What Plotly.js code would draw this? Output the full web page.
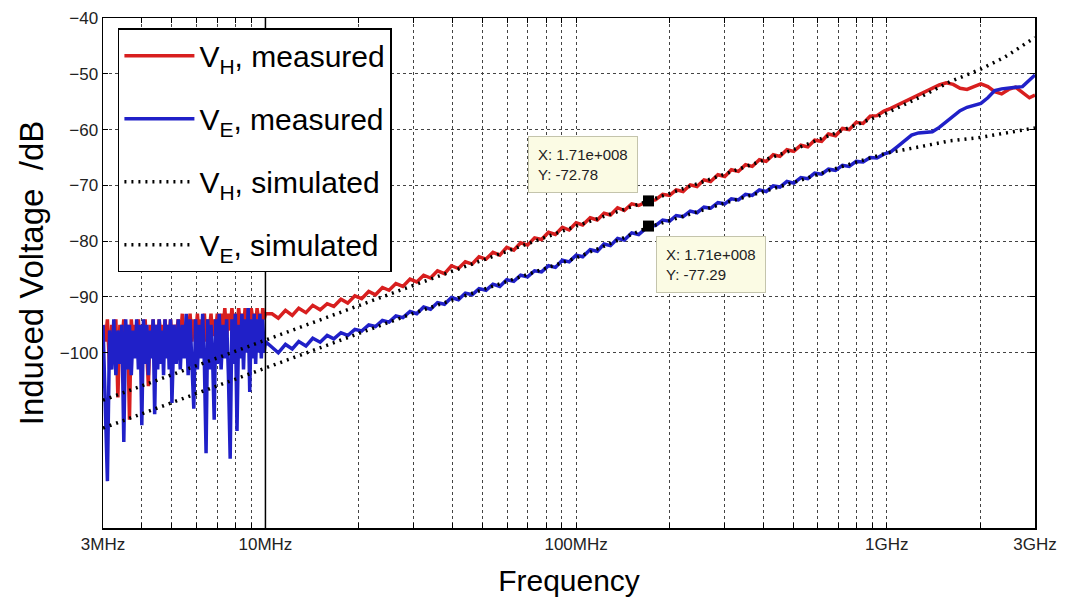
<!DOCTYPE html>
<html>
<head>
<meta charset="utf-8">
<script src="https://cdn.plot.ly/plotly-3.0.1.min.js"></script>
<style>
  html, body { margin: 0; padding: 0; background: #ffffff; }
  #chart { width: 1074px; height: 605px; }
</style>
</head>
<body>
<div id="chart"></div>
<script>
// ---------- data (frequencies in MHz, levels in dB) ----------
// noisy low-frequency part (3 MHz - 10 MHz)
const FREQ_LO_MHZ = [3.00,3.05,3.10,3.15,3.20,3.25,3.30,3.35,3.40,3.45,3.50,3.55,3.60,3.65,3.70,3.75,3.80,3.85,3.90,3.95,
  4.00,4.05,4.10,4.15,4.20,4.25,4.30,4.35,4.40,4.45,4.50,4.55,4.60,4.65,4.70,4.75,4.80,4.85,4.90,4.95,5.00,
  5.08,5.16,5.24,5.32,5.40,5.48,5.56,5.64,5.72,5.80,5.88,5.96,6.04,6.12,6.20,6.28,6.36,6.44,6.52,6.60,6.68,6.76,6.84,6.92,7.00,
  7.10,7.20,7.30,7.40,7.50,7.60,7.70,7.80,7.90,8.00,8.10,8.20,8.30,8.40,8.50,8.60,8.70,8.80,8.90,9.00,9.10,9.20,9.30,9.40,9.50,9.60,9.70,9.80,9.90,10.0];
const VH_MEAS_LO = [-95,-98,-94,-103,-95,-99,-94,-108,-95,-98,-94,-100,-95,-112,-94,-98,-95,-99,-94,-100,
  -95,-98,-94,-99,-106,-95,-98,-94,-99,-95,-98,-94,-97,-95,-98,-94,-99,-95,-97,-94,-98,
  -95,-97,-94,-98,-93,-99,-95,-97,-93,-98,-94,-97,-93,-98,-94,-96,-93,-98,-94,-96,-93,-97,-94,-96,-93,
  -97,-93,-96,-92,-97,-93,-96,-92,-95,-93,-96,-92,-95,-93,-96,-92,-95,-93,-95,-92,-94,-93,-95,-92,-94,-93,-95,-92,-94,-93];
const VE_MEAS_LO = [-95,-107,-123,-96,-103,-94,-104,-96,-102,-95,-116,-94,-103,-95,-104,-96,-101,-94,-103,-95,
  -113,-94,-102,-95,-104,-96,-101,-94,-111,-95,-103,-94,-102,-96,-104,-94,-101,-95,-103,-94,-109,
  -95,-102,-94,-103,-95,-101,-93,-104,-94,-102,-110,-94,-103,-95,-101,-93,-102,-118,-94,-103,-95,-101,-112,-94,-102,
  -93,-103,-95,-101,-94,-104,-119,-94,-102,-93,-114,-95,-101,-93,-103,-94,-100,-92,-107,-94,-101,-93,-102,-94,-100,-93,-101,-94,-100,-98];

// smoother part (10 MHz - 3 GHz)
const FREQ_HI_MHZ = [10.5,11,11.6,12.2,12.8,13.5,14.2,15,15.8,16.6,17.5,18.4,19.4,20.4,21.5,22.6,23.8,25,26.3,27.7,29.2,30.7,32.3,34,35.8,37.7,39.7,41.8,44,46.3,48.7,51.3,54,56.8,59.8,63,66.3,69.8,73.5,77.4,81.5,85.8,90.3,95,100,105,111,117,123,129,136,143,151,159,171,180,190,200,210,221,233,245,258,271,286,301,316,333,351,369,389,409,431,453,477,502,529,557,586,617,649,684,720,757,797,839,884,930,979,1030,1085,1142,1202,1265,1332,1402,1476,1554,1636,1722,1813,1908,2009,2115,2226,2343,2467,2597,2734,2878,3000];
const VH_MEAS_HI = [-93.0,-93.8,-92.4,-93.3,-92.0,-92.8,-91.5,-92.3,-91.2,-91.7,
  -90.4,-91.1,-89.8,-90.3,-89.0,-89.6,-88.3,-88.8,-87.6,-88.1,
  -86.8,-87.3,-86.1,-86.6,-85.3,-85.8,-84.4,-84.9,-83.7,-84.1,
  -82.8,-83.2,-82.0,-82.5,-81.1,-81.6,-80.3,-80.7,-79.4,-79.7,
  -78.4,-78.8,-77.5,-78.0,-76.7,-77.1,-75.8,-76.2,-75.0,-75.3,
  -74.0,-74.5,-73.3,-73.6,-72.78,-72.6,-71.6,-71.8,-70.8,-71.1,
  -69.9,-70.2,-69.0,-69.3,-68.1,-68.4,-67.2,-67.5,-66.3,-66.6,
  -65.4,-65.7,-64.5,-64.8,-63.6,-63.9,-62.8,-63.1,-61.9,-62.1,
  -60.8,-61.1,-59.8,-60.0,-58.7,-58.9,-57.6,-57.5,-56.7,-56.2,
  -55.6,-55.0,-54.3,-53.7,-53.2,-52.5,-52.0,-51.6,-51.9,-52.6,
  -52.8,-52.3,-51.8,-52.3,-53.2,-53.6,-52.8,-52.4,-53.4,-54.3,-53.8];
const VE_MEAS_HI = [-99.0,-100.0,-98.5,-99.3,-98.0,-98.8,-97.4,-98.1,-96.9,-97.5,
  -96.4,-96.9,-95.8,-96.1,-95.0,-95.3,-94.2,-94.5,-93.4,-93.7,
  -92.6,-93.0,-91.8,-92.2,-91.0,-91.3,-90.1,-90.5,-89.3,-89.6,
  -88.5,-88.8,-87.7,-88.1,-86.9,-87.2,-86.1,-86.4,-85.3,-85.5,
  -84.4,-84.7,-83.4,-83.7,-82.5,-82.8,-81.5,-81.8,-80.5,-80.8,
  -79.5,-79.8,-78.5,-78.8,-77.29,-77.2,-76.2,-76.4,-75.4,-75.6,
  -74.6,-74.9,-73.9,-74.1,-73.1,-73.3,-72.4,-72.6,-71.6,-71.8,
  -70.8,-71.1,-70.1,-70.3,-69.3,-69.6,-68.6,-68.8,-67.8,-68.0,
  -67.1,-67.3,-66.4,-66.6,-65.7,-65.8,-65.0,-65.1,-64.4,-64.0,
  -63.0,-62.0,-61.0,-60.6,-60.5,-60.4,-59.6,-58.6,-57.7,-56.6,
  -56.0,-55.7,-55.3,-54.3,-53.0,-52.7,-52.5,-52.4,-52.3,-51.2,-50.2];

// simulated curves
const FREQ_SIM_MHZ = [3,10,30,100,171,300,500,700,1000,1300,1600,2000,2400,3000];
const VH_SIM = [-108.5,-97.7,-87.9,-77.3,-72.8,-68.0,-63.6,-60.4,-57.0,-54.0,-51.4,-49.2,-47.0,-43.5];
const VE_SIM = [-113.5,-102.8,-92.9,-83.0,-77.5,-73.2,-69.5,-66.8,-64.2,-63.0,-62.0,-61.4,-60.6,-59.7];

// data tips
const TIP_X_HZ = 1.71e8;
const TIP_Y = [-72.78, -77.29];
const TIP_TEXT = ['X: 1.71e+008<br>Y: -72.78', 'X: 1.71e+008<br>Y: -77.29'];

// axis ticks
const X_TICK_MHZ = [3,4,5,6,7,8,9,10,20,30,40,50,60,70,80,90,100,200,300,400,500,600,700,800,900,1000,2000,3000];
const X_TICK_TEXT = ['3MHz','','','','','','','10MHz','','','','','','','','','100MHz','','','','','','','','','1GHz','','3GHz'];
const Y_TICKS = [-100,-90,-80,-70,-60,-50,-40];
const Y_RANGE = [-131.4, -40];
const X_RANGE_HZ = [3e6, 3e9];
const MARK_LINE_HZ = 1e7;

const LEGEND_NAMES = ['V<sub>H</sub>, measured','V<sub>E</sub>, measured','V<sub>H</sub>, simulated','V<sub>E</sub>, simulated'];

// ---------- build ----------
const toHz = a => a.map(v => v * 1e6);
const FONT = 'Arial, "Liberation Sans", sans-serif';

const freqMeas = toHz(FREQ_LO_MHZ.concat(FREQ_HI_MHZ));

const traces = [
  { x: freqMeas, y: VH_MEAS_LO.concat(VH_MEAS_HI), type: 'scatter', mode: 'lines',
    name: LEGEND_NAMES[0], legendgroup: 'a', line: { color: '#d81f1f', width: 3.5 } },
  { x: freqMeas, y: VE_MEAS_LO.concat(VE_MEAS_HI), type: 'scatter', mode: 'lines',
    name: LEGEND_NAMES[1], legendgroup: 'b', line: { color: '#2020c8', width: 3.5 } },
  { x: toHz(FREQ_SIM_MHZ), y: VH_SIM, type: 'scatter', mode: 'lines',
    name: LEGEND_NAMES[2], legendgroup: 'c', line: { color: '#000000', width: 3.5, dash: '2px,5px' } },
  { x: toHz(FREQ_SIM_MHZ), y: VE_SIM, type: 'scatter', mode: 'lines',
    name: LEGEND_NAMES[3], legendgroup: 'd', line: { color: '#000000', width: 3.5, dash: '2px,5px' } },
  { x: [TIP_X_HZ, TIP_X_HZ], y: TIP_Y, type: 'scatter', mode: 'markers', showlegend: false,
    marker: { symbol: 'square', size: 11, color: '#000000' } }
];

const tipAnn = (i, right) => ({
  x: Math.log10(TIP_X_HZ), y: TIP_Y[i], xref: 'x', yref: 'y',
  text: TIP_TEXT[i], showarrow: false, align: 'left',
  xanchor: right ? 'left' : 'right', yanchor: right ? 'top' : 'bottom',
  xshift: right ? 8 : -10, yshift: right ? -10 : 8,
  bgcolor: '#fbfbe4', bordercolor: '#c4c4ac', borderwidth: 1, borderpad: 9,
  font: { family: FONT, size: 15, color: '#222' }
});

const layout = {
  width: 1074, height: 605,
  margin: { l: 103, r: 39, t: 18, b: 77 },
  paper_bgcolor: '#ffffff', plot_bgcolor: '#ffffff',
  font: { family: FONT, color: '#000' },
  showlegend: true,
  legend: {
    x: 0.016, y: 0.98, xanchor: 'left', yanchor: 'top',
    bgcolor: '#ffffff', bordercolor: '#000000', borderwidth: 1.5,
    font: { family: FONT, size: 30, color: '#000' },
    tracegroupgap: 21, itemwidth: 70
  },
  xaxis: {
    type: 'log', range: X_RANGE_HZ.map(Math.log10),
    tickmode: 'array', tickvals: toHz(X_TICK_MHZ), ticktext: X_TICK_TEXT,
    ticks: 'inside', ticklen: 5, tickcolor: '#000',
    showline: true, linecolor: '#000', linewidth: 1.5, mirror: 'ticks',
    showgrid: true, gridcolor: '#444', griddash: 'dot', gridwidth: 1,
    zeroline: false,
    tickfont: { family: FONT, size: 17, color: '#222' },
    title: { text: 'Frequency', font: { family: FONT, size: 30, color: '#000' }, standoff: 17 }
  },
  yaxis: {
    range: Y_RANGE, tickmode: 'array', tickvals: Y_TICKS,
    ticks: 'inside', ticklen: 5, tickcolor: '#000',
    showline: true, linecolor: '#000', linewidth: 1.5, mirror: 'ticks',
    showgrid: true, gridcolor: '#444', griddash: 'dot', gridwidth: 1,
    zeroline: false,
    tickfont: { family: FONT, size: 17, color: '#222' },
    title: { text: 'Induced Voltage  /dB', font: { family: FONT, size: 33, color: '#000' }, standoff: 6 }
  },
  shapes: [
    { type: 'line', xref: 'x', yref: 'paper', x0: MARK_LINE_HZ, x1: MARK_LINE_HZ, y0: 0, y1: 1,
      line: { color: '#000', width: 1.5 }, layer: 'above' }
  ],
  annotations: [tipAnn(0, false), tipAnn(1, true)]
};

Plotly.newPlot('chart', traces, layout, { displayModeBar: false, staticPlot: true });
</script>
</body>
</html>
